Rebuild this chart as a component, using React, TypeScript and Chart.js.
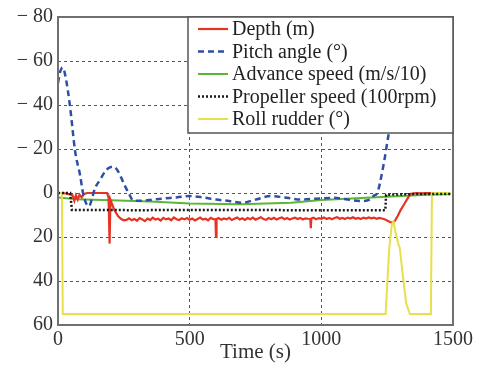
import { useEffect, useRef } from "react";
import { Chart, registerables } from "chart.js";

Chart.register(...registerables);

const FONT = "'Liberation Serif', 'Times New Roman', serif";

// x axis ticks / range
const xTicks = [0, 500, 1000, 1500];
const yTicks = [-80, -60, -40, -20, 0, 20, 40, 60];

// Depth (m)
const depthT = [
  0, 20, 40, 55, 62, 68, 75, 82, 90, 98, 110, 140, 186, 192, 196, 199, 205, 215, 228, 240, 250,
  260, 270, 280, 290, 300, 310, 320, 330, 340, 350, 360, 370, 380, 390, 400, 410, 420, 430, 440, 450,
  460, 470, 480, 490, 500, 510, 520, 530, 540, 550, 560, 570, 580, 590, 598, 600, 602, 610, 620, 630,
  640, 650, 660, 670, 680, 690, 700, 710, 720, 730, 740, 750, 760, 770, 780, 790, 800, 810, 820, 830,
  840, 850, 860, 870, 880, 890, 900, 910, 920, 930, 940, 950, 958, 960, 962, 970, 980, 990, 1000, 1010,
  1020, 1030, 1040, 1050, 1060, 1070, 1080, 1090, 1100, 1110, 1120, 1130, 1140, 1150, 1160, 1170, 1180,
  1190, 1200, 1210, 1220, 1230, 1240, 1255, 1270, 1280, 1290, 1300, 1315, 1330, 1340, 1360, 1380, 1400, 1420,
];
const depthV = [
  0, 0, 0.5, 1, 3.5, 1, 3, 0.8, 2, 0.5, 0, 0, 0, 2, 23, 3, 5, 8, 10.5, 11.8, 12.4,
  12.2, 11.5, 12.4, 11.8, 12.6, 11.4, 12.0, 12.8, 11.6, 12.3, 11.2, 12.1, 11.7, 12.5, 11.3, 12.0, 11.6, 12.4, 11.1, 11.9,
  12.3, 11.5, 12.0, 11.4, 12.2, 11.6, 12.5, 11.8, 11.2, 12.1, 11.7, 12.4, 11.3, 11.9, 12.0, 20.0, 11.8, 11.4, 12.2, 11.6,
  12.0, 11.3, 12.3, 11.7, 11.1, 12.0, 11.5, 12.2, 11.4, 11.9, 11.2, 12.1, 11.6, 11.0, 11.8, 12.2, 11.4, 11.9, 11.3, 12.0,
  11.5, 11.1, 11.9, 11.4, 12.1, 11.6, 11.2, 11.8, 11.3, 12.0, 11.5, 11.7, 11.8, 16.0, 11.6, 11.2, 11.9, 11.4, 11.7, 11.1,
  11.8, 11.3, 11.9, 11.4, 11.0, 11.7, 11.3, 11.8, 11.2, 11.6, 11.0, 11.7, 11.3, 11.8, 11.2, 11.6, 11.1,
  11.5, 11.2, 11.7, 11.3, 11.6, 11.9, 12.8, 13.6, 12.5, 10.5, 8.0, 5.0, 2.0, 0.3, 0, 0.2, 0, 0,
];

// Pitch angle (deg)
const pitchT = [0, 8, 18, 30, 46, 65, 84, 95, 108, 118, 128, 140, 160, 180, 195, 210, 225, 240, 255, 268, 287, 320, 360, 400, 450, 500, 550, 600, 650, 700, 750, 809, 860, 920, 980, 1050, 1100, 1152, 1185, 1202, 1210, 1235, 1256, 1280, 1300];
const pitchV = [-50, -55, -57, -52, -39, -19, -8, 0, 5, 6, 3, -2, -6, -10, -11.5, -12, -10.5, -7, -3, 0, 3.5, 3.5, 3, 2.5, 2, 1.4, 2, 3, 3.6, 4.4, 3, 1.4, 2, 3, 2.6, 2.2, 3, 3.6, 3, 1, 0.5, -12, -27, -42, -50];

// Advance speed (m/s/10)
const advT = [0, 72, 200, 351, 500, 694, 885, 1000, 1152, 1286, 1400, 1490];
const advV = [2.1, 2.8, 3.3, 3.9, 4.8, 5.1, 4.4, 3.2, 2.3, 1.5, 0.8, 0.5];

// Propeller speed (100 rpm)
const propT = [0, 46, 53, 300, 600, 900, 1243, 1246, 1350, 1490];
const propV = [0, 0, 7.7, 7.8, 7.7, 7.8, 7.8, 0.8, 0.5, 0.5];

// Roll rudder (deg)
const rollT = [0, 15, 18, 600, 1000, 1244, 1258, 1268, 1274, 1282, 1292, 1298, 1310, 1322, 1336, 1400, 1416, 1420, 1490];
const rollV = [0, 0, 55, 55, 55, 55, 25, 14, 13, 18, 23, 25, 38, 50, 55, 55, 55, 0, 0];

const pts = (t: number[], v: number[]) => t.map((x, i) => ({ x, y: v[i] }));

export default function App() {
  const ref = useRef<HTMLCanvasElement>(null);

  useEffect(() => {
    if (!ref.current) return;

    const framePlugin = {
      id: "frameAndLegend",
      afterDraw(chart: any) {
        const ctx = chart.ctx as CanvasRenderingContext2D;
        const a = chart.chartArea;
        ctx.save();
        // plot frame
        ctx.strokeStyle = "#707070";
        ctx.lineWidth = 2;
        ctx.setLineDash([]);
        ctx.strokeRect(a.left, a.top, a.right - a.left, a.bottom - a.top);

        // boxed legend drawn over the data
        const x1 = a.right;
        const x0 = x1 - 265;
        const y0 = a.top;
        const y1 = y0 + 116;
        ctx.fillStyle = "#ffffff";
        ctx.fillRect(x0, y0, x1 - x0, y1 - y0);
        ctx.strokeStyle = "#555555";
        ctx.lineWidth = 1.5;
        ctx.strokeRect(x0, y0, x1 - x0, y1 - y0);
        ctx.font = `20px ${FONT}`;
        ctx.textBaseline = "middle";
        ctx.textAlign = "left";
        const ds = chart.data.datasets;
        ds.forEach((d: any, row: number) => {
          const y = y0 + 12 + row * 22.5;
          ctx.strokeStyle = d.borderColor;
          ctx.lineWidth = d.borderWidth;
          ctx.setLineDash(d.borderDash || []);
          ctx.beginPath();
          ctx.moveTo(x0 + 10, y);
          ctx.lineTo(x0 + 40, y);
          ctx.stroke();
          ctx.setLineDash([]);
          ctx.fillStyle = "#222222";
          ctx.fillText(d.label, x0 + 44, y + 1);
        });
        ctx.restore();
      },
    };

    const chart = new Chart(ref.current, {
      type: "line",
      data: {
        datasets: [
          {
            label: "Depth (m)",
            data: pts(depthT, depthV),
            borderColor: "#e63322",
            borderWidth: 2.2,
            pointRadius: 0,
            order: 3,
          },
          {
            label: "Pitch angle (°)",
            data: pts(pitchT, pitchV),
            borderColor: "#2f4fa6",
            borderWidth: 2.5,
            borderDash: [6, 4],
            pointRadius: 0,
            cubicInterpolationMode: "monotone",
            order: 0,
          },
          {
            label: "Advance speed (m/s/10)",
            data: pts(advT, advV),
            borderColor: "#5cb535",
            borderWidth: 2,
            pointRadius: 0,
            order: 4,
          },
          {
            label: "Propeller speed (100rpm)",
            data: pts(propT, propV),
            borderColor: "#1a1a1a",
            borderWidth: 2.5,
            borderDash: [2, 2],
            pointRadius: 0,
            order: 1,
          },
          {
            label: "Roll rudder (°)",
            data: pts(rollT, rollV),
            borderColor: "#e6e04a",
            borderWidth: 2,
            pointRadius: 0,
            order: 2,
          },
        ],
      },
      options: {
        animation: false,
        responsive: true,
        maintainAspectRatio: false,
        layout: { padding: { top: 15, right: 26, left: 0, bottom: 0 } },
        plugins: { legend: { display: false }, tooltip: { enabled: false } },
        scales: {
          x: {
            type: "linear",
            min: xTicks[0],
            max: xTicks[xTicks.length - 1],
            afterBuildTicks: (s: any) => {
              s.ticks = xTicks.map((v) => ({ value: v }));
            },
            afterFit: (s: any) => {
              s.height = 45;
            },
            ticks: {
              font: { family: FONT, size: 20 },
              color: "#333333",
              padding: 3,
              maxRotation: 0,
              callback: (v: any) => String(v),
            },
            grid: { color: "#555555", lineWidth: 1, drawTicks: false },
            border: { display: false, dash: [3, 3] },
            title: {
              display: true,
              text: "Time (s)",
              font: { family: FONT, size: 21 },
              color: "#333333",
              padding: { top: 0, bottom: 5 },
            },
          },
          y: {
            type: "linear",
            reverse: true,
            min: yTicks[0],
            max: yTicks[yTicks.length - 1],
            afterBuildTicks: (s: any) => {
              s.ticks = yTicks.map((v) => ({ value: v }));
            },
            afterFit: (s: any) => {
              s.width = 58;
            },
            ticks: {
              font: { family: FONT, size: 20 },
              color: "#333333",
              padding: 5,
              callback: (v: any) => (Number(v) < 0 ? "− " + Math.abs(Number(v)) : String(v)),
            },
            grid: { color: "#555555", lineWidth: 1, drawTicks: false },
            border: { display: false, dash: [3, 3] },
          },
        },
      },
      plugins: [framePlugin],
    });
    return () => chart.destroy();
  }, []);

  return (
    <div style={{ position: "fixed", left: 0, top: 0, width: 479, height: 370, background: "#fff" }}>
      <canvas ref={ref} />
    </div>
  );
}
